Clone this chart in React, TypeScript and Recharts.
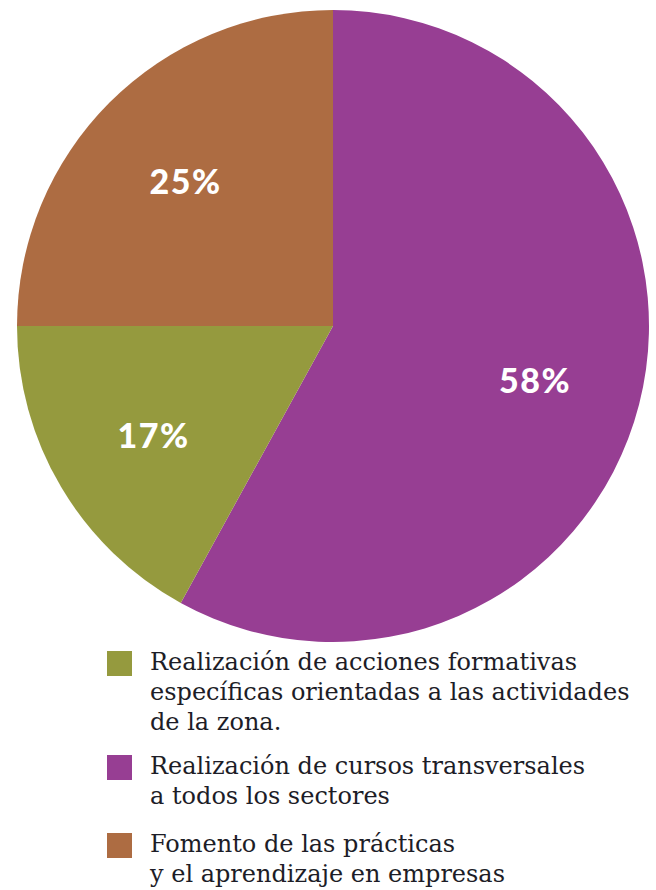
import { PieChart, Pie, Cell, Legend } from 'recharts'

// ── data ────────────────────────────────────────────────────────────────────

const SHARES = [58, 17, 25]
const LEGEND_LINES = [
  ['Realización de cursos transversales', 'a todos los sectores'],
  ['Realización de acciones formativas', 'específicas orientadas a las actividades', 'de la zona.'],
  ['Fomento de las prácticas', 'y el aprendizaje en empresas'],
]
const COLORS = ['#973e93', '#959a3e', '#ad6c42']
// legend lists items in a different order than the slices go round
const LEGEND_ORDER = [1, 0, 2]

const data = SHARES.map((v, i) => ({ name: LEGEND_LINES[i].join(' '), value: v }))

const RAD = Math.PI / 180

function SliceLabel(props: any) {
  const { cx, cy, midAngle, outerRadius, value } = props
  const r = outerRadius * 0.66
  const x = cx + r * Math.cos(-midAngle * RAD)
  const y = cy + r * Math.sin(-midAngle * RAD)
  return (
    <text
      x={x}
      y={y + 2}
      fill="#fff"
      textAnchor="middle"
      dominantBaseline="central"
      letterSpacing={1.5}
      style={{ fontFamily: 'Lato, sans-serif', fontWeight: 900, fontSize: 34 }}
    >
      {value}%
    </text>
  )
}

function LegendBox() {
  return (
    <div style={{ fontFamily: '"DejaVu Serif", serif', fontSize: 24, color: '#1d1d27', lineHeight: '30px' }}>
      {LEGEND_ORDER.map((i, k) => (
        <div key={i} style={{ display: 'flex', alignItems: 'flex-start', marginBottom: k === 0 ? 14 : 18 }}>
          <div style={{ width: 25, height: 25, background: COLORS[i], marginTop: 4, marginRight: 18, flexShrink: 0 }} />
          <div>
            {LEGEND_LINES[i].map((line) => (
              <div key={line} style={{ whiteSpace: 'nowrap' }}>{line}</div>
            ))}
          </div>
        </div>
      ))}
    </div>
  )
}

export default function App() {
  return (
    <div style={{ position: 'absolute', left: 0, top: 0, width: 656, height: 890, background: '#fff' }}>
      <PieChart width={656} height={890} margin={{ top: 0, right: 0, bottom: 0, left: 0 }}>
        <Pie
          data={data}
          dataKey="value"
          cx={333}
          cy={326}
          outerRadius={316}
          startAngle={90}
          endAngle={-270}
          stroke="none"
          label={SliceLabel}
          labelLine={false}
          isAnimationActive={false}
        >
          {data.map((d, i) => (
            <Cell key={d.name} fill={COLORS[i]} />
          ))}
        </Pie>
        <Legend
          content={<LegendBox />}
          wrapperStyle={{ position: 'absolute', left: 107, top: 647, width: 545 }}
        />
      </PieChart>
    </div>
  )
}
